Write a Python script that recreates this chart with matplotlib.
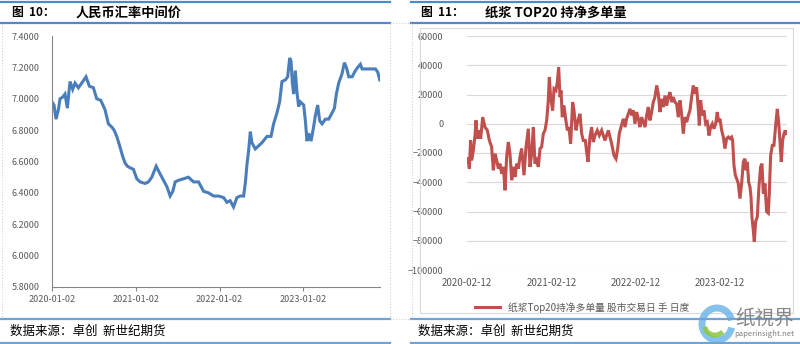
import matplotlib
import matplotlib.pyplot as plt
from matplotlib.lines import Line2D
from matplotlib.patches import Rectangle, Arc

matplotlib.use('agg')
plt.rcParams['font.family'] = ['Noto Sans CJK SC', 'DejaVu Sans']

# 人民币汇率中间价: x in years after 2020-01-02
cny_t = [0.0, 0.024, 0.048, 0.076, 0.096, 0.127, 0.155, 0.183, 0.215, 0.247,
         0.275, 0.315, 0.355, 0.406, 0.446, 0.494, 0.534, 0.582, 0.633, 0.673,
         0.713, 0.741, 0.773, 0.813, 0.845, 0.873, 0.900, 0.932, 0.972, 1.012,
         1.052, 1.112, 1.151, 1.191, 1.243, 1.291, 1.331, 1.371, 1.410, 1.442,
         1.470, 1.510, 1.570, 1.629, 1.689, 1.749, 1.809, 1.869, 1.928, 1.988,
         2.048, 2.088, 2.127, 2.167, 2.207, 2.247, 2.287, 2.307, 2.327, 2.347,
         2.367, 2.386, 2.426, 2.466, 2.506, 2.566, 2.614, 2.645, 2.685, 2.717,
         2.745, 2.785, 2.813, 2.837, 2.853, 2.869, 2.884, 2.904, 2.924, 2.944,
         2.964, 3.004, 3.024, 3.044, 3.064, 3.092, 3.116, 3.143, 3.171, 3.195,
         3.223, 3.263, 3.303, 3.343, 3.371, 3.394, 3.422, 3.462, 3.490, 3.514,
         3.542, 3.582, 3.622, 3.649, 3.681, 3.701, 3.741, 3.801, 3.861, 3.888,
         3.912]
cny_rate = [6.98, 6.96, 6.87, 6.93, 7.00, 7.01, 7.03, 6.94, 7.11, 7.06,
            7.10, 7.07, 7.10, 7.14, 7.08, 7.07, 7.00, 6.99, 6.93, 6.84,
            6.82, 6.80, 6.76, 6.69, 6.63, 6.59, 6.57, 6.56, 6.55, 6.49,
            6.47, 6.46, 6.47, 6.50, 6.57, 6.52, 6.48, 6.44, 6.38, 6.41,
            6.47, 6.48, 6.49, 6.50, 6.47, 6.47, 6.41, 6.40, 6.38, 6.38,
            6.37, 6.34, 6.35, 6.31, 6.37, 6.38, 6.38, 6.46, 6.58, 6.67,
            6.79, 6.72, 6.68, 6.70, 6.72, 6.76, 6.76, 6.84, 6.91, 6.98,
            7.11, 7.12, 7.14, 7.26, 7.24, 7.10, 7.03, 7.18, 7.04, 6.95,
            6.98, 6.96, 6.86, 6.73, 6.78, 6.73, 6.80, 6.89, 6.96, 6.86,
            6.84, 6.87, 6.87, 6.91, 6.94, 7.03, 7.10, 7.16, 7.23, 7.20,
            7.14, 7.14, 7.18, 7.20, 7.22, 7.19, 7.19, 7.19, 7.19, 7.17,
            7.12]
cny_ticks = ['2020-01-02', '2021-01-02', '2022-01-02', '2023-01-02']

# 纸浆Top20持净多单量: x in years after 2020-02-12
pulp_t = [0.0, 0.016, 0.028, 0.043, 0.055, 0.075, 0.095, 0.107, 0.123, 0.146,
          0.162, 0.186, 0.213, 0.241, 0.265, 0.292, 0.312, 0.332, 0.352, 0.372,
          0.391, 0.411, 0.431, 0.451, 0.470, 0.490, 0.510, 0.530, 0.549, 0.569,
          0.589, 0.609, 0.628, 0.648, 0.676, 0.700, 0.727, 0.747, 0.767, 0.787,
          0.806, 0.826, 0.846, 0.866, 0.885, 0.905, 0.925, 0.945, 0.964, 0.976,
          0.992, 1.016, 1.032, 1.055, 1.071, 1.087, 1.103, 1.115, 1.130, 1.150,
          1.170, 1.190, 1.209, 1.229, 1.253, 1.269, 1.292, 1.316, 1.340, 1.360,
          1.379, 1.403, 1.419, 1.435, 1.458, 1.478, 1.498, 1.518, 1.545, 1.569,
          1.597, 1.636, 1.676, 1.715, 1.743, 1.767, 1.787, 1.806, 1.826, 1.854,
          1.874, 1.893, 1.913, 1.933, 1.953, 1.972, 1.992, 2.012, 2.032, 2.051,
          2.071, 2.091, 2.111, 2.130, 2.150, 2.170, 2.190, 2.209, 2.229, 2.249,
          2.269, 2.289, 2.308, 2.328, 2.348, 2.368, 2.387, 2.407, 2.427, 2.447,
          2.466, 2.486, 2.506, 2.526, 2.545, 2.565, 2.585, 2.605, 2.625, 2.644,
          2.664, 2.684, 2.704, 2.723, 2.743, 2.755, 2.771, 2.791, 2.810, 2.830,
          2.850, 2.870, 2.889, 2.909, 2.929, 2.949, 2.968, 2.984, 3.000, 3.020,
          3.040, 3.059, 3.079, 3.099, 3.119, 3.138, 3.150, 3.166, 3.182, 3.198,
          3.217, 3.237, 3.257, 3.277, 3.296, 3.308, 3.324, 3.340, 3.356, 3.368,
          3.379, 3.395, 3.407, 3.423, 3.443, 3.462, 3.482, 3.498, 3.514, 3.534,
          3.553, 3.573, 3.585, 3.601, 3.621, 3.640, 3.664, 3.680, 3.696, 3.711,
          3.727, 3.743, 3.759, 3.775, 3.783]
pulp_net = [-23900, -26000, -30700, -11400, -25000, -18200, -8000, 2300, -10200, -4500,
            -10200, 4500, -2300, -4500, -11400, -15900, -31800, -20500, -25000, -30700,
            -27300, -34100, -29500, -45500, -22700, -12500, -20500, -38600, -29500, -36400,
            -27300, -30700, -22700, -17000, -35200, -15900, -3400, -29500, -20500, -2300,
            -27300, -25000, -29500, -17000, -15900, -6800, -4500, 2300, 15900, 31800,
            18200, 9100, 23900, 22700, 28400, 38600, 18200, 22700, 4500, 12500,
            3400, -4500, -2300, -13600, 14800, 9100, -4500, 2300, 6800, -6800,
            -11400, -11400, -19300, -26000, -9100, -2300, -12500, -8000, -4500, -8000,
            -4500, -11400, -4500, -13600, -21600, -23900, -17000, -6800, -2300, 3400,
            -2300, 3400, 6800, 10200, 5700, 9100, 0, 8000, 3400, -2300,
            4500, 1100, -2300, 5700, 11400, 2300, 8000, 14800, 18200, 26100,
            20500, 8000, 17000, 11400, 19300, 12500, 18200, 21600, 14800, 18200,
            14800, 13600, 4500, 15900, 6800, -6800, 4500, 1100, 5700, 9100,
            18200, 26100, 20500, 25000, 10200, -1100, 15900, 5700, 9100, 0,
            1100, -8000, -2300, 0, -3400, 0, 8000, 1100, 3400, -4500,
            -9100, -17000, -10200, -9100, -10200, -9100, -11400, -28400, -35200, -37500,
            -40900, -51200, -40900, -26100, -23900, -31800, -26100, -39800, -43200, -50000,
            -63600, -72700, -80700, -67000, -63600, -43200, -29500, -27300, -47700, -40900,
            -60000, -61100, -47700, -21600, -14800, -14800, 1100, 10200, 1100, -11400,
            -26100, -11400, -6800, -4500, -6800]
pulp_ticks = ['2020-02-12', '2021-02-12', '2022-02-12', '2023-02-12']

W, H = 800, 344
BLUE = '#4a8ad0'
GREY_TXT = '#595959'

fig = plt.figure(figsize=(8, 3.44), dpi=100)


def px(x, y):
    return x / W, 1 - y / H


def hline(x0, x1, y, color=BLUE, lw=1.6, ls='-'):
    a, b = px(x0, y)
    c, _ = px(x1, y)
    fig.add_artist(Line2D([a, c], [b, b], color=color, lw=lw, ls=ls))


def vline(x, y0, y1, color='#d0d0d0', lw=0.8, ls=':'):
    a, b = px(x, y0)
    _, d = px(x, y1)
    fig.add_artist(Line2D([a, a], [b, d], color=color, lw=lw, ls=ls))


# panel frames: header and footer rules
for x0, x1 in [(0, 390), (411, 800)]:
    hline(x0, x1, 1.5)
    hline(x0, x1, 23)
    hline(x0, x1, 319, color='#6fa3d8')
    hline(x0, x1, 343, color='#6fa3d8')

# faint cell borders
hline(390, 411, 23, color='#cccccc', lw=0.8, ls=':')
hline(390, 411, 319, color='#cccccc', lw=0.8, ls=':')
vline(2, 24, 318)
vline(390, 24, 318)
vline(412, 24, 318)

# headers
fig.text(*px(12, 12.5), '图  10：', fontsize=8.5, fontweight='bold', va='center', ha='left')
fig.text(*px(76, 12.5), '人民币汇率中间价', fontsize=9.5, fontweight='bold', va='center', ha='left')
fig.text(*px(421, 12.5), '图  11：', fontsize=8.5, fontweight='bold', va='center', ha='left')
fig.text(*px(485, 12.5), '纸浆 TOP20 持净多单量', fontsize=9.5, fontweight='bold', va='center', ha='left')

# footers
fig.text(*px(10, 331), '数据来源：卓创  新世纪期货', fontsize=9, va='center', ha='left')
fig.text(*px(418, 331), '数据来源：卓创  新世纪期货', fontsize=9, va='center', ha='left')

# left chart
ax1 = fig.add_axes([52 / W, 1 - 287 / H, 328 / W, 251 / H])
ax1.plot(cny_t, cny_rate, color='#4a7ebb', lw=2.2, solid_joinstyle='miter')
ax1.set_xlim(0, 3.915)
ax1.set_ylim(5.8, 7.4)
ax1.set_yticks([5.8 + 0.2 * i for i in range(9)])
ax1.set_yticklabels([f'{5.8 + 0.2 * i:.4f}' for i in range(9)])
ax1.set_xticks(range(4))
ax1.set_xticklabels(cny_ticks)
for s in ['top', 'right']:
    ax1.spines[s].set_visible(False)
for s in ['left', 'bottom']:
    ax1.spines[s].set_color('#868686')
    ax1.spines[s].set_linewidth(0.8)
ax1.tick_params(axis='y', length=0, pad=9, labelsize=6.5, labelcolor=GREY_TXT)
ax1.tick_params(axis='x', length=3, width=0.8, color='#868686', pad=3,
                labelsize=6.5, labelcolor=GREY_TXT)

# right chart frame
fig.add_artist(Rectangle(px(420, 313), 373 / W, 285 / H, fill=False,
                         edgecolor='#d9d9d9', lw=0.8))

ax2 = fig.add_axes([467 / W, 1 - 270 / H, 320 / W, 234 / H])
ax2.plot(pulp_t, pulp_net, color='#c0504d', lw=2.2, solid_joinstyle='miter')
ax2.set_xlim(0, 3.795)
ax2.set_ylim(-100000, 60000)
ax2.set_yticks(range(-100000, 60001, 20000))
ax2.set_xticks(range(4))
ax2.set_xticklabels(pulp_ticks)
ax2.grid(axis='y', color='#d9d9d9', lw=0.8)
ax2.set_axisbelow(True)
for s in ax2.spines.values():
    s.set_visible(False)
ax2.tick_params(axis='y', length=0, pad=17, labelsize=6.5, labelcolor=GREY_TXT)
ax2.tick_params(axis='x', length=0, pad=6, labelsize=7, labelcolor=GREY_TXT)

leg = ax2.legend(['纸浆Top20持净多单量 股市交易日 手 日度'], loc='upper center',
                 bbox_to_anchor=(0.36, -0.1), frameon=False, fontsize=7,
                 handlelength=2.6, labelcolor=GREY_TXT)

# watermark
fig.add_artist(Arc(px(717, 324), 30 / W, 32 / H, theta1=30, theta2=330,
                   color='#6fb6e8', lw=5, alpha=0.85))
fig.add_artist(Arc(px(715, 326), 20 / W, 18 / H, theta1=190, theta2=300,
                   color='#8cc63f', lw=3.5, alpha=0.85))
fig.text(*px(764, 318), '纸視界', fontsize=14, color='#7a7a7a',
         family=['Noto Sans CJK TC', 'DejaVu Sans'], ha='center', va='center', alpha=0.9)
fig.text(*px(764, 334), 'paperinsight.net', fontsize=5.5, color='#7a7a7a',
         ha='center', va='center')

fig.savefig('out.png', dpi=100)
